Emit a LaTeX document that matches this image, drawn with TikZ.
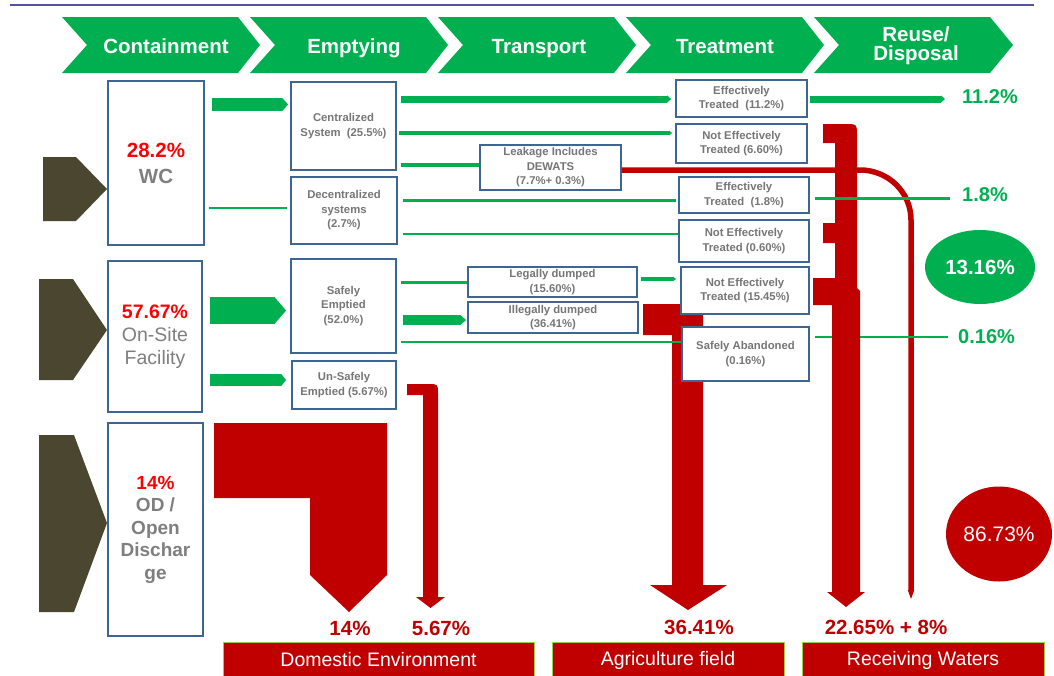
\documentclass[tikz,border=0pt]{standalone}
\usepackage{fontspec}
\setmainfont{Liberation Sans}
\usetikzlibrary{arrows.meta,shapes.geometric}
\definecolor{grn}{HTML}{00B050}
\definecolor{dred}{HTML}{C00000}
\definecolor{bred}{HTML}{FF0000}
\definecolor{txtgray}{HTML}{767676}
\definecolor{lblgray}{HTML}{7F7F7F}
\definecolor{boxblue}{HTML}{3F6593}
\definecolor{olive}{HTML}{4A4630}
\definecolor{topline}{HTML}{5252A2}
\definecolor{lgreen}{HTML}{92D050}
\newcommand\boxfont{\fontsize{11.3}{14.5}\selectfont\bfseries}
\begin{document}
\begin{tikzpicture}[x=1pt,y=-1pt,
  ebox/.style={draw=boxblue, line width=1.8pt, fill=white, inner sep=0pt, align=center, font=\boxfont, text=txtgray},
  cbox/.style={draw=boxblue, line width=1.8pt, fill=white, inner sep=0pt, align=center, text=lblgray},
  hdr/.style={text=white, font=\fontsize{20.5}{19}\selectfont\bfseries, align=center, inner sep=0pt},
  gl/.style={draw=grn, line width=#1},
  gtip/.style={-{Triangle[length=#1,width=0pt 1]}},
  pct/.style={text=grn, font=\fontsize{20}{24}\selectfont\bfseries, inner sep=0pt, anchor=west},
  rpct/.style={text=dred, font=\fontsize{20.5}{24}\selectfont\bfseries, inner sep=0pt},
  banner/.style={fill=dred, draw=lgreen, line width=1pt, text=white, font=\fontsize{19.5}{22}\selectfont, inner sep=0pt},
]
\useasboundingbox (0,0) rectangle (1054,675);
\fill[white] (0,0) rectangle (1054,675);
\draw[topline, line width=2.5pt] (10,5) -- (1034,5);

% header chevrons
\fill[grn] (62,17) -- (238,17) -- (260,45) -- (238,73) -- (62,73) -- (87,45) -- cycle;
\fill[grn] (250,17) -- (426,17) -- (448,45) -- (426,73) -- (250,73) -- (275,45) -- cycle;
\fill[grn] (438,17) -- (614,17) -- (636,45) -- (614,73) -- (438,73) -- (463,45) -- cycle;
\fill[grn] (626,17) -- (802,17) -- (824,45) -- (802,73) -- (626,73) -- (651,45) -- cycle;
\fill[grn] (814,17) -- (990,17) -- (1013,45) -- (990,73) -- (814,73) -- (839,45) -- cycle;
\node[hdr, anchor=base] (h1) at (166,53) {Containment};
\node[hdr, anchor=base] (h2) at (354,53) {Emptying};
\node[hdr, anchor=base] (h3) at (539,53) {Transport};
\node[hdr, anchor=base] (h4) at (725,53) {Treatment};
\node[hdr] (h5) at (916,45.5) {Reuse/\\Disposal};

% olive chevrons
\fill[olive] (43,157) -- (76,157) -- (107,189) -- (76,221) -- (43,221) -- cycle;
\fill[olive] (39,279) -- (73,279) -- (107,330) -- (73,380) -- (39,380) -- cycle;
\fill[olive] (39,435) -- (74,435) -- (107,523) -- (74,612) -- (39,612) -- cycle;

% red flows (shapes)
\fill[dred] (214,423) -- (387,423) -- (387,575) -- (349,612) -- (310,575) -- (310,498) -- (214,498) -- cycle;
\fill[dred] (407,384) -- (428,384) .. controls (438,384) .. (438,394) -- (438,597) -- (445,597) -- (430.5,608) -- (416,597) -- (423,597) -- (423,395) -- (407,395) -- cycle;
\fill[dred] (643,304) -- (686,304) .. controls (703,304) .. (703,321) -- (703,585) -- (727,585) -- (688,610) -- (650,585) -- (672,585) -- (672,335) -- (643,335) -- cycle;

% containment
\node[cbox, minimum width=96pt, minimum height=164pt, font=\fontsize{20.5}{26}\selectfont\bfseries] (wc) at (156,163) {\textcolor{bred}{28.2\%}\\WC};
\node[cbox, minimum width=94pt, minimum height=151pt, font=\fontsize{19.5}{23}\selectfont] (onsite) at (155,336.5) {\textcolor{bred}{\bfseries 57.67\%}\\On-Site\\Facility};
\node[cbox, minimum width=95pt, minimum height=213pt, font=\fontsize{19}{22.5}\selectfont\bfseries] (od) at (155.5,529.5) {\textcolor{bred}{14\%}\\OD /\\Open\\Dischar\\ge};

% emptying
\node[ebox, minimum width=105pt, minimum height=88pt] (cent) at (343.5,126) {Centralized\\System\ \ (25.5\%)};
\node[ebox, minimum width=106pt, minimum height=67pt] (decent) at (344,210.5) {Decentralized\\systems\\(2.7\%)};
\node[ebox, minimum width=105pt, minimum height=94pt] (safe) at (343.5,306) {Safely\\Emptied\\(52.0\%)};
\node[ebox, minimum width=104pt, minimum height=48pt] (unsafe) at (344,385) {Un-Safely\\Emptied (5.67\%)};

% transport
\node[ebox, minimum width=141pt, minimum height=45pt] (leak) at (550.5,167.5) {Leakage Includes\\DEWATS\\(7.7\%+ 0.3\%)};
\node[ebox, minimum width=169pt, minimum height=30pt] (legal) at (552.5,282) {Legally dumped\\(15.60\%)};
\node[ebox, minimum width=170pt, minimum height=31pt] (illegal) at (553,317.5) {Illegally dumped\\(36.41\%)};

% treatment
\node[ebox, minimum width=131pt, minimum height=37pt] (et1) at (741.5,98.5) {Effectively\\Treated\ \ (11.2\%)};
\node[ebox, minimum width=131pt, minimum height=39pt] (net1) at (741.5,143.5) {Not Effectively\\Treated (6.60\%)};
\node[ebox, minimum width=130pt, minimum height=36pt] (et2) at (744,195) {Effectively\\Treated\ \ (1.8\%)};
\node[ebox, minimum width=130pt, minimum height=42pt] (net2) at (744,241) {Not Effectively\\Treated (0.60\%)};
\node[ebox, minimum width=128pt, minimum height=47pt] (net3) at (745,290.5) {Not Effectively\\Treated (15.45\%)};
\node[ebox, minimum width=127pt, minimum height=54pt] (sab) at (745.5,354) {Safely Abandoned\\(0.16\%)};

% containment -> emptying
\draw[grn, line width=13pt, -{Triangle[length=6pt,width=0pt 1]}, shorten <=7pt, shorten >=2pt] (wc.east |- 0,104.5) -- (cent.west |- 0,104.5);
\draw[gl=2.2pt, shorten <=4pt, shorten >=3pt] (wc.east |- 0,208) -- (decent.west |- 0,208);
\draw[grn, line width=27pt, -{Triangle[length=12pt,width=0pt 1]}, shorten <=7pt, shorten >=4pt] (onsite.east |- 0,310.5) -- (safe.west |- 0,310.5);
\draw[grn, line width=12pt, -{Triangle[length=5pt,width=0pt 1]}, shorten <=7pt, shorten >=5pt] (onsite.east |- 0,380) -- (unsafe.west |- 0,380);

% emptying -> transport / treatment
\draw[gl=7pt, gtip=4pt, shorten <=4pt, shorten >=4pt] (cent.east |- 0,99) -- (et1.west |- 0,99);
\draw[gl=4.5pt, gtip=3pt, shorten <=2pt, shorten >=3pt] (cent.east |- 0,133) -- (net1.west |- 0,133);
\draw[gl=4.5pt, shorten <=4pt] (cent.east |- 0,165) -- (leak.west |- 0,165);
\draw[gl=3pt, shorten <=5pt, shorten >=2pt] (decent.east |- 0,200) -- (et2.west |- 0,200);
\draw[gl=1.5pt, shorten <=5pt] (decent.east |- 0,234) -- (net2.west |- 0,234);
\draw[gl=3pt, shorten <=4pt] (safe.east |- 0,282) -- (legal.west |- 0,282);
\draw[gl=4pt, gtip=3pt, shorten <=3pt, shorten >=4pt] (legal.east |- 0,279) -- (net3.west |- 0,279);
\draw[grn, line width=10pt, -{Triangle[length=6pt,width=0pt 1]}, shorten <=6pt, shorten >=1pt] (safe.east |- 0,320) -- (illegal.west |- 0,320);
\draw[gl=1.5pt, shorten <=4pt] (safe.east |- 0,342) -- (sab.west |- 0,342);

% labels
\node[pct] (p112) at (962,97) {11.2\%};
\node[pct] (p18) at (962,195) {1.8\%};
\node[pct] (p016) at (958,337) {0.16\%};

% leakage red pipe (8%)
\draw[dred, line width=5.5pt, -{Triangle[length=10pt,width=0pt 1]}] (leak.east |- 0,170) -- (860,170) .. controls (888,170) and (911,192) .. (911,220) -- (911,600);

% outputs
\draw[gl=7pt, gtip=4pt, shorten <=2pt, shorten >=17pt] (et1.east |- 0,99) -- (p112.west |- 0,99);
\draw[gl=1.5pt, shorten <=5pt, shorten >=10pt] (sab.east |- 0,337) -- (p016.west |- 0,337);

% main receiving-waters trunk
\fill[dred] (823,124) -- (845,124) .. controls (857,124) .. (857,136) -- (857,288) -- (860,291) -- (860,592) -- (865,592) -- (846,607) -- (827,592) -- (832,592) -- (832,305) -- (813,305) -- (813,278) -- (835,278) -- (835,243) -- (823,243) -- (823,223) -- (835,223) -- (835,143) -- (823,143) -- cycle;

\draw[gl=3pt, shorten <=5pt, shorten >=12pt] (et2.east |- 0,198) -- (p18.west |- 0,198);

% summary ellipses
\node[ellipse, fill=grn, minimum width=110pt, minimum height=74pt, inner sep=0pt, text=white, font=\fontsize{20.5}{24}\selectfont\bfseries] (g13) at (980,267) {13.16\%};
\node[ellipse, fill=dred, minimum width=106pt, minimum height=95pt, inner sep=0pt, text=white, font=\fontsize{21}{24}\selectfont] (r86) at (999,534) {86.73\%};

% bottom percentages
\node[rpct] (b14) at (350,628) {14\%};
\node[rpct] (b567) at (441,628) {5.67\%};
\node[rpct] (b3641) at (699,627) {36.41\%};
\node[rpct] (b2265) at (886,627) {22.65\% + 8\%};

% banners
\node[banner, minimum width=311pt, minimum height=36pt] (dom) at (378.5,660) {Domestic Environment};
\node[banner, minimum width=232pt, minimum height=36pt] (agr) at (668,660) {Agriculture field};
\node[banner, minimum width=242pt, minimum height=36pt] (rw) at (923,660) {Receiving Waters};
\end{tikzpicture}
\end{document}
